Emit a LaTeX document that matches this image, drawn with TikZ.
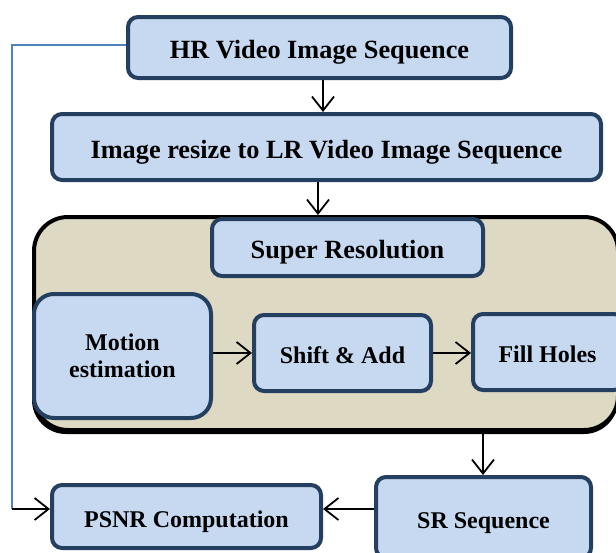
\documentclass[tikz,border=0pt]{standalone}
\usepackage{fontspec}
\setmainfont{Liberation Serif}
\usetikzlibrary{arrows.meta}
\definecolor{boxfill}{HTML}{C6D9F1}
\definecolor{boxdraw}{HTML}{243F60}
\definecolor{tanfill}{HTML}{DDD9C3}
\definecolor{fbline}{HTML}{4F81BD}
\begin{document}
\begin{tikzpicture}[x=1pt,y=-1pt,
  box/.style={draw=boxdraw, fill=boxfill, line width=4pt, rounded corners=10pt,
    align=center, inner sep=0pt, font=\bfseries\fontsize{24}{27}\selectfont},
  lowtext/.style={text height=26pt, text depth=5pt},
  bigtext/.style={font=\bfseries\fontsize{26.3}{29}\selectfont, text height=28pt, text depth=6pt},
  arr/.style={line width=1.8pt, -{Straight Barb[length=14pt,width=22pt]}},
  container/.style={draw=black, fill=tanfill, line width=4pt, rounded corners=34pt, inner sep=0pt}
]
\useasboundingbox (0,0) rectangle (616,552);
\clip (0,0) rectangle (616,552);
\fill[white] (0,0) rectangle (616,552);

% container with shadow
\fill[black, rounded corners=34pt] (32,221) rectangle (618,434);
\node[container, minimum width=584pt, minimum height=213pt] (sr) at (326,323.5) {};

\node[box, bigtext, minimum width=383pt, minimum height=61pt] (hr) at (319.5,47.5) {HR Video Image Sequence};
\node[box, bigtext, minimum width=549pt, minimum height=66pt] (resize) at (326.5,147) {Image resize to LR Video Image Sequence};
\node[box, bigtext, minimum width=271pt, minimum height=57pt] (super) at (347.5,247.5) {Super Resolution};
\node[box, rounded corners=20pt, minimum width=177pt, minimum height=124pt] (motion) at (122.5,356) {Motion\\estimation};
\node[box, lowtext, minimum width=177pt, minimum height=76pt] (shift) at (342.5,353) {Shift \& Add};
\node[box, lowtext, minimum width=151pt, minimum height=76pt] (fill) at (548.5,352) {\hspace*{-2pt}Fill Holes};
\node[box, lowtext, minimum width=215pt, minimum height=81pt] (srseq) at (483.5,517.5) {SR Sequence};
\node[box, lowtext, minimum width=269pt, minimum height=63pt] (psnr) at (186.5,516.5) {PSNR Computation};

% arrow positions
\coordinate (c1) at (323,0);
\coordinate (c2) at (318,0);
\coordinate (c3) at (483,0);
\coordinate (c4) at (0,509);
\coordinate (fb) at (12,509);

\draw[arr] (hr.south -| c1) -- (resize.north -| c1);
\draw[arr] (resize.south -| c2) -- (sr.north -| c2);
\draw[arr] (motion.east |- shift.west) -- (shift.west);
\draw[arr] (shift.east) -- (fill.west |- shift.east);
\draw[arr] (sr.south -| c3) -- (srseq.north -| c3);
\draw[arr] (srseq.west |- c4) -- (psnr.east |- c4);

% feedback line
\draw[fbline, line width=1.4pt] (hr.west |- 0,45) -- (12,45) -- (fb);
\draw[arr] (fb) -- (psnr.west |- c4);
\end{tikzpicture}
\end{document}
